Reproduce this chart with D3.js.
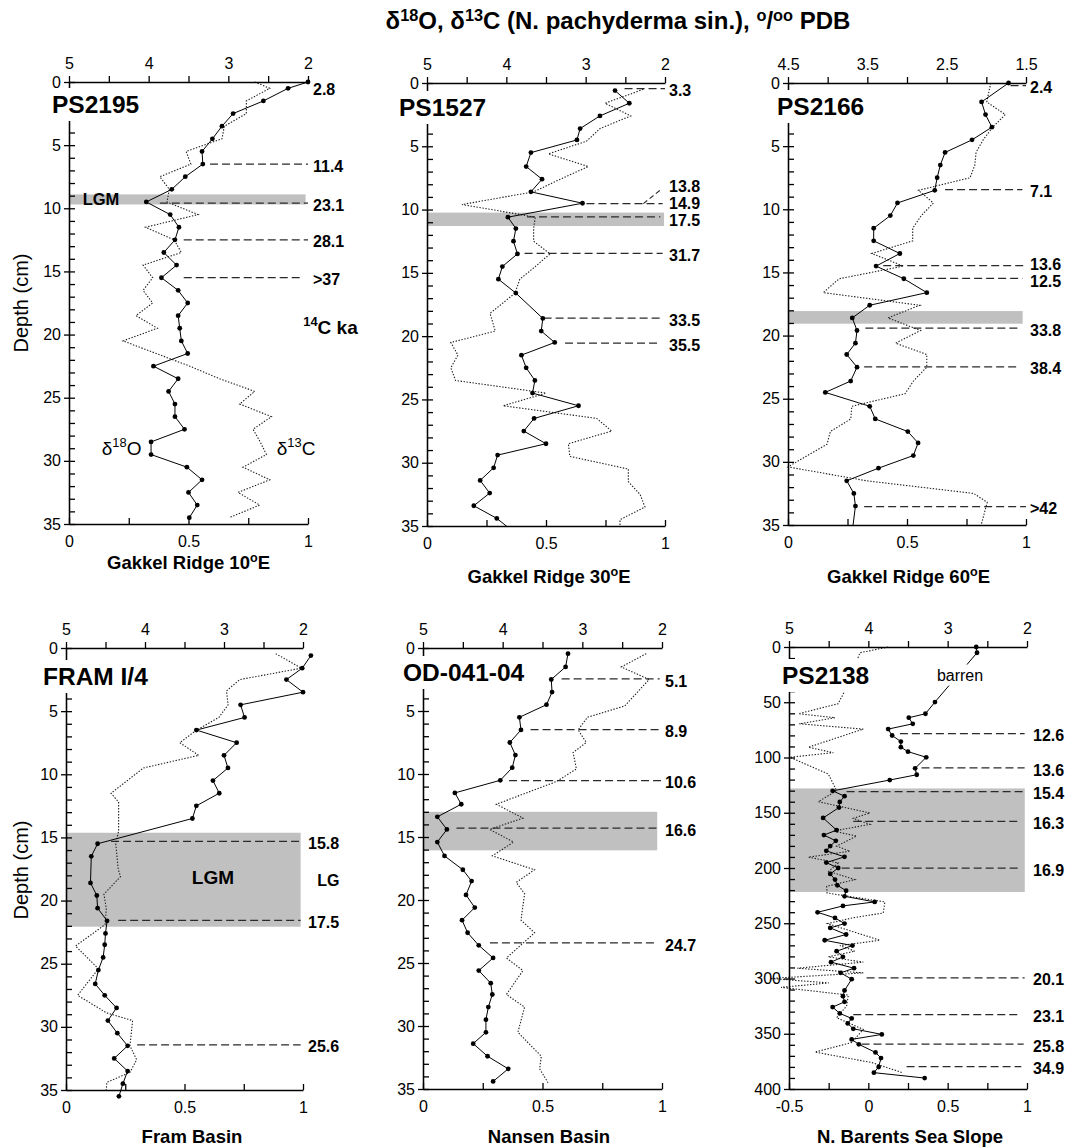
<!DOCTYPE html>
<html>
<head>
<meta charset="utf-8">
<script src="https://cdn.jsdelivr.net/npm/d3@7/dist/d3.min.js"></script>
<style>
html,body{margin:0;padding:0;background:#fff;}
svg{display:block;}
</style>
</head>
<body>
<svg id="chart" width="1067" height="1148" xmlns="http://www.w3.org/2000/svg"></svg>
<script>
// ------------------------------------------------------------------ DATA
const stationNames = ["PS2195", "PS1527", "PS2166", "FRAM I/4", "OD-041-04", "PS2138"];
const locationNames = ["Gakkel Ridge 10°E", "Gakkel Ridge 30°E", "Gakkel Ridge 60°E", "Fram Basin", "Nansen Basin", "N. Barents Sea Slope"];

// tick labels
const depthLabels35 = [0, 5, 10, 15, 20, 25, 30, 35];
const depthLabels400 = [0, 50, 100, 150, 200, 250, 300, 350, 400];
const topLabels52 = [5, 4, 3, 2];
const topLabels4515 = [4.5, 3.5, 2.5, 1.5];
const bottomLabels01 = [0, 0.5, 1];
const bottomLabelsB = [-0.5, 0, 0.5, 1];

// PS2195
const ps2195DepthO = [0,0.5,1.5,2.5,3.5,4.5,5.5,6.5,7.5,8.5,9.5,10.5,11.5,12.5,13.5,14.5,15.5,16.5,17.5,18.5,19.5,20.5,21.5,22.5,23.5,24.5,25.5,26.5,27.5,28.5,29.5,30.5,31.5,32.5,33.5,34.5];
const ps2195O18 = [2.0,2.25,2.56,2.94,3.08,3.20,3.33,3.32,3.54,3.71,4.03,3.73,3.62,3.67,3.81,3.65,3.84,3.63,3.51,3.63,3.61,3.59,3.51,3.94,3.63,3.75,3.67,3.67,3.55,3.97,3.97,3.52,3.33,3.50,3.39,3.49];
const ps2195DepthC = [0,0.5,1.5,2.5,3.5,4.5,5.5,6.5,7.5,8.5,9.5,10.5,11.5,12.5,13.5,14.5,15.5,16.5,17.5,18.5,19.5,20.5,21.5,22.5,23.5,24.5,25.5,26.5,27.5,28.5,29.5,30.5,31.5,32.5,33.5,34.5];
const ps2195C13 = [0.777,0.84,0.742,0.742,0.65,0.64,0.49,0.51,0.38,0.42,0.41,0.54,0.32,0.44,0.47,0.31,0.35,0.31,0.35,0.28,0.37,0.226,0.365,0.505,0.63,0.777,0.714,0.847,0.77,0.80,0.826,0.728,0.84,0.707,0.798,0.67];
const ps2195AgeText = ["2.8","11.4","23.1","28.1",">37"];
const ps2195AgeDepth = [0.45, 6.5, 9.6, 12.5, 15.5];
const ps2195AgeFrom = [null, 0.59, 0.38, 0.48, 0.48];
const ps2195AgeTo = [null, 1.0, 1.0, 1.0, 0.97];
const ps2195Band = [8.9, 9.7];

// PS1527
const ps1527DepthO = [0.6,1.6,2.6,3.6,4.5,5.5,6.6,7.6,8.6,9.5,10.6,11.5,12.5,13.5,14.5,15.5,16.6,18.6,19.6,20.5,21.5,22.5,23.5,24.5,25.5,26.5,27.5,28.5,29.4,30.4,31.4,32.4,33.4,34.4,35.4];
const ps1527O18 = [2.63,2.45,2.82,3.07,3.11,3.69,3.75,3.55,3.69,3.04,3.98,3.88,3.91,3.86,4.05,4.10,3.88,3.54,3.56,3.39,3.81,3.75,3.64,3.67,3.09,3.65,3.78,3.50,4.11,4.16,4.33,4.21,4.41,4.12,3.92];
const ps1527DepthC = [0.5,1.6,2.6,3.6,4.6,5.6,6.6,7.6,8.6,9.6,10.6,11.5,12.5,13.5,14.5,15.5,16.6,18.2,19.6,20.5,21.5,22.5,23.5,24.5,25.5,26.5,27.5,28.5,29.5,30.5,31.5,32.5,33.5,34.5,35];
const ps1527C13 = [0.909,0.748,0.856,0.727,0.67,0.51,0.678,0.56,0.448,0.147,0.455,0.448,0.448,0.517,0.455,0.39,0.37,0.265,0.287,0.10,0.13,0.10,0.12,0.50,0.32,0.713,0.776,0.594,0.60,0.846,0.846,0.895,0.916,0.811,0.811];
const ps1527AgeText = ["3.3","13.8","14.9","17.5","31.7","33.5","35.5"];
const ps1527AgeDepth = [0.45, 8.2, 9.53, 10.58, 13.47, 18.58, 20.55];
const ps1527AgeFrom = [0.83, null, 0.67, 0.42, 0.41, 0.49, 0.58];
const ps1527AgeTo = [1.0, null, 0.99, 0.98, 0.99, 0.98, 0.98];
const ps1527Leader = [[0.909, 9.53], [0.986, 8.37]];
const ps1527Band = [10.24, 11.3];

// PS2166
const ps2166DepthO = [0,1.5,2.5,3.5,4.5,5.5,6.5,7.5,8.5,9.5,10.5,11.5,12.5,13.5,14.5,15.5,16.6,17.6,18.6,19.6,20.6,21.5,22.5,23.6,24.5,25.6,26.6,27.6,28.5,29.5,30.5,31.5,32.5,33.5,35.5];
const ps2166O18 = [1.72,2.06,2.01,1.93,2.18,2.52,2.58,2.62,2.65,3.12,3.21,3.42,3.42,3.09,3.39,3.04,2.75,3.47,3.69,3.63,3.65,3.76,3.63,3.71,4.03,3.47,3.40,2.99,2.86,2.92,3.36,3.76,3.67,3.65,3.69];
const ps2166DepthC = [0,1.5,2.5,3.5,4.5,5.5,6.5,7.5,8.5,9.5,10.5,11.5,12.5,13.5,14.5,15.5,16.6,17.6,18.6,19.6,20.6,21.5,22.5,23.6,24.6,25.6,26.6,27.6,28.6,30.4,31.5,32.5,33.2,34.9];
const ps2166C13 = [0.852,0.835,0.913,0.86,0.82,0.79,0.785,0.765,0.548,0.611,0.56,0.524,0.524,0.352,0.485,0.215,0.148,0.554,0.42,0.557,0.452,0.583,0.583,0.527,0.492,0.268,0.264,0.178,0.164,0.0,0.33,0.78,0.837,0.813];
const ps2166AgeText = ["2.4","7.1","13.6","12.5","33.8","38.4",">42"];
const ps2166AgeDepth = [0.2, 8.45, 14.47, 15.47, 19.42, 22.47, 33.54];
const ps2166AgeFrom = [0.935, 0.66, 0.40, 0.53, 0.325, 0.32, 0.32];
const ps2166AgeTo = [1.0, 0.985, 0.99, 0.985, 0.975, 0.975, 1.0];
const ps2166Band = [18.06, 19.06];

// FRAM I/4
const framDepthO = [0.6,1.6,2.5,3.5,4.5,5.5,6.5,7.5,8.5,9.5,10.5,11.5,12.5,13.5,15.5,16.5,18.6,19.6,20.6,21.6,22.6,23.5,24.5,25.5,26.6,27.5,28.5,29.5,30.5,31.5,32.5,33.5,34.5,35.5];
const framO18 = [1.90,2.01,2.21,2.00,2.79,2.74,3.35,2.84,3.00,2.95,3.14,3.06,3.35,3.40,4.60,4.68,4.69,4.61,4.60,4.48,4.50,4.51,4.53,4.59,4.63,4.51,4.36,4.47,4.35,4.22,4.39,4.22,4.28,4.33];
const framDepthC = [0.45,1.6,2.5,3.4,4.5,5.5,6.5,7.5,8.5,9.5,11.5,12.2,13.5,14.5,15.5,16.5,17.5,18.1,19.5,20.6,21.9,23.6,25.4,27.5,28.9,29.5,31.5,32.6,33.6,34.4,35];
const framC13 = [0.885,0.993,0.733,0.677,0.684,0.645,0.551,0.48,0.56,0.327,0.19,0.222,0.222,0.222,0.21,0.215,0.22,0.23,0.16,0.17,0.165,0.04,0.137,0.049,0.172,0.281,0.27,0.298,0.27,0.172,0.17];
const framAgeText = ["15.8","17.5","25.6"];
const framAgeDepth = [15.32, 21.57, 31.42];
const framAgeFrom = [0.19, 0.22, 0.30];
const framAgeTo = [0.99, 0.99, 0.99];
const framBand = [14.63, 22.07];

// OD-041-04
const odDepthO = [0.45,1.5,2.5,3.5,4.5,5.5,6.5,7.5,8.5,9.5,10.5,11.5,12.4,13.4,14.4,15.4,16.5,17.6,18.5,19.6,20.6,21.6,22.6,23.6,24.6,25.6,26.6,27.5,28.5,29.5,30.5,31.4,32.4,33.4,34.4];
const odO18 = [3.18,3.21,3.39,3.38,3.45,3.79,3.77,3.91,3.84,3.88,4.03,4.60,4.52,4.82,4.70,4.82,4.73,4.50,4.39,4.46,4.35,4.51,4.44,4.30,4.12,4.30,4.15,4.13,4.18,4.21,4.21,4.37,4.19,3.93,4.12];
const odDepthC = [0.45,1.5,2.5,4.6,5.5,6.5,7.5,8.3,9.6,10.6,12.4,13.5,14.4,15.4,16.5,17.6,18.6,19.5,21.6,22.6,24.6,25.6,27.5,28.5,30.5,32.4,33.4,34.5];
const odC13 = [0.934,0.83,0.946,0.844,0.688,0.649,0.683,0.628,0.642,0.558,0.307,0.418,0.279,0.379,0.29,0.467,0.39,0.425,0.41,0.467,0.349,0.418,0.349,0.425,0.397,0.495,0.488,0.523];
const odAgeText = ["5.1","8.9","10.6","16.6","24.7"];
const odAgeDepth = [2.46, 6.48, 10.53, 14.3, 23.41];
const odAgeFrom = [0.58, 0.45, 0.36, 0.14, 0.28];
const odAgeTo = [0.99, 0.99, 1.0, 0.98, 0.98];
const odBand = [13.0, 16.06];

// PS2138
const ps2138DepthO = [0,5.2,49.8,60.4,64,69.5,74.3,80.1,85.6,90.7,94.7,99.8,109.8,115.6,120.4,130.2,135,140.2,145.3,154.7,165.7,170.2,175.4,180.2,184.5,189.9,195.1,200,205.4,210.5,215.7,220.5,225.6,230.7,234.3,240.1,245.2,250.3,254.2,260.2,265.4,270.2,275.3,280.4,285.2,290.7,294.9,300.6,310.8,316,321.1,325.9,331.6,336.1,340.7,345.5,350.6,355.1,359.6,366.9,372,380.1,385.2,390.1];
const ps2138O18 = [2.64,2.63,3.16,3.28,3.49,3.44,3.75,3.70,3.59,3.59,3.50,3.27,3.41,3.39,3.73,4.45,4.30,4.36,4.37,4.57,4.40,4.56,4.41,4.48,4.53,4.30,4.53,4.38,4.48,4.42,4.39,4.28,4.30,3.92,4.32,4.64,4.42,4.30,4.48,4.28,4.55,4.20,4.40,4.32,4.47,4.18,4.35,4.21,4.30,4.32,4.30,4.45,4.36,4.21,4.26,4.19,3.83,4.21,4.12,3.91,3.84,3.87,3.93,3.29];
const ps2138DepthC = [0,5.2,36.7,51.3,60.4,64,69.5,74.3,90.7,95.6,99.8,115,130,140,150.2,155,160.5,166.6,171.1,180.2,184.8,190.2,195.4,203,210.5,216.6,222.6,230.7,240.7,245,250.3,265.4,270.2,275.3,280.4,285.2,290.7,294.9,300,304,308,315,325,335.5,346,358,366.6,376,385];
const ps2138C13 = [0.125,-0.053,-0.137,-0.19,-0.44,-0.21,-0.435,-0.032,-0.378,-0.221,-0.494,-0.252,-0.2,-0.315,0.01,-0.095,0.01,-0.221,-0.074,-0.2,-0.116,-0.378,-0.19,-0.25,-0.085,-0.263,-0.26,0.104,0.094,-0.095,-0.257,0.073,-0.179,-0.085,-0.252,-0.032,-0.448,-0.032,-0.62,-0.25,-0.55,-0.126,-0.137,-0.2,-0.032,-0.106,-0.336,0.02,0.21];
const ps2138AgeText = ["12.6","13.6","15.4","16.3","16.9","20.1","23.1","25.8","34.9"];
const ps2138AgeDepth = [78.3, 109.5, 130.8, 157.8, 200, 299.4, 332.8, 359.3, 379.8];
const ps2138AgeFrom = [0.199, 0.335, -0.137, -0.095, -0.168, -0.011, -0.095, -0.043, 0.241];
const ps2138AgeTo = [0.985, 0.985, 0.979, 0.964, 0.964, 0.985, 0.964, 0.979, 0.964];
const ps2138Band = [128, 221.7];

// ------------------------------------------------------------------ LAYOUT
const FONT = '"Liberation Sans", Arial, Helvetica, sans-serif';
const svg = d3.select("#chart").attr("font-family", FONT);

const panels = [
  {frame:[69,308,82,524], top:[5,2], topLab:topLabels52, bottom:[0,1], botLab:bottomLabels01,
   depth:[0,35], minor:1, depthLab:depthLabels35,
   oD:ps2195DepthO, o:ps2195O18, cD:ps2195DepthC, c:ps2195C13,
   ages:[ps2195AgeText, ps2195AgeDepth, ps2195AgeFrom, ps2195AgeTo], band:ps2195Band, bandTo:0.99,
   nameX:52, nameY:113, ageDx:5, ageShift:{}, locX:188.5, locY:569, clip:false, depthTitle:303},
  {frame:[427,665,83,526], top:[5,2], topLab:topLabels52, bottom:[0,1], botLab:bottomLabels01,
   depth:[0,35], minor:1, depthLab:depthLabels35,
   oD:ps1527DepthO, o:ps1527O18, cD:ps1527DepthC, c:ps1527C13,
   ages:[ps1527AgeText, ps1527AgeDepth, ps1527AgeFrom, ps1527AgeTo], band:ps1527Band, bandTo:0.996,
   leader:ps1527Leader,
   nameX:399, nameY:116, ageDx:4, ageShift:{1:-2, 2:-2, 3:1}, locX:549, locY:583, clip:true},
  {frame:[788,1026,83,525], top:[4.5,1.5], topLab:topLabels4515, bottom:[0,1], botLab:bottomLabels01,
   depth:[0,35], minor:1, depthLab:depthLabels35,
   oD:ps2166DepthO, o:ps2166O18, cD:ps2166DepthC, c:ps2166C13,
   ages:[ps2166AgeText, ps2166AgeDepth, ps2166AgeFrom, ps2166AgeTo], band:ps2166Band, bandTo:0.986,
   nameX:777, nameY:115, ageDx:4, ageShift:{2:-3, 3:1}, locX:908.5, locY:583, clip:true},
  {frame:[66,303,648,1090], top:[5,2], topLab:topLabels52, bottom:[0,1], botLab:bottomLabels01,
   depth:[0,35], minor:1, depthLab:depthLabels35,
   oD:framDepthO, o:framO18, cD:framDepthC, c:framC13,
   ages:[framAgeText, framAgeDepth, framAgeFrom, framAgeTo], band:framBand, bandTo:0.99,
   nameX:43, nameY:685, ageDx:5, ageShift:{}, locX:192, locY:1143, clip:false, depthTitle:870},
  {frame:[423,662,648,1089], top:[5,2], topLab:topLabels52, bottom:[0,1], botLab:bottomLabels01,
   depth:[0,35], minor:1, depthLab:depthLabels35,
   oD:odDepthO, o:odO18, cD:odDepthC, c:odC13,
   ages:[odAgeText, odAgeDepth, odAgeFrom, odAgeTo], band:odBand, bandTo:0.98,
   nameX:403, nameY:681, ageDx:3, ageShift:{}, locX:549, locY:1143, clip:false},
  {frame:[789,1027,647,1089], top:[5,2], topLab:topLabels52, bottom:[-0.5,1], botLab:bottomLabelsB,
   depth:[0,400], minor:10, depthLab:depthLabels400,
   oD:ps2138DepthO, o:ps2138O18, cD:ps2138DepthC, c:ps2138C13,
   ages:[ps2138AgeText, ps2138AgeDepth, ps2138AgeFrom, ps2138AgeTo], band:ps2138Band, bandTo:0.986,
   nameX:782, nameY:684, ageDx:6, ageShift:{}, locX:910, locY:1143, clip:false}
];

// ------------------------------------------------------------------ HELPERS
function rich(t, parts, fs, shift) {
  const k = shift || 0.4;
  let cur = 0;
  parts.forEach(([s, sup]) => {
    const target = sup ? -Math.round(fs * k) : 0;
    t.append("tspan").attr("dy", target - cur).attr("font-size", sup ? fs * 0.68 : fs).text(s);
    cur = target;
  });
}
function degreeParts(s) {
  const i = s.indexOf("°");
  if (i < 0) return [[s, 0]];
  return [[s.slice(0, i), 0], ["o", 1], [s.slice(i + 1), 0]];
}
function styleAxis(g) {
  g.attr("font-family", FONT).attr("font-size", 16);
  g.selectAll("path, line").attr("stroke", "#000").attr("stroke-width", 1.3);
  g.selectAll("text").attr("fill", "#000");
}
function whiteBox(g, textSel, padX, padY) {
  const b = textSel.node().getBBox();
  g.insert("rect", function () { return textSel.node(); })
    .attr("x", b.x - padX).attr("y", b.y - padY)
    .attr("width", b.width + 2 * padX).attr("height", b.height + 2 * padY)
    .attr("fill", "#fff");
}

const defs = svg.append("defs");

// ------------------------------------------------------------------ PANELS
panels.forEach((p, idx) => {
  const [x0, x1, y0, y1] = p.frame;
  const xb = d3.scaleLinear().domain(p.bottom).range([x0, x1]);
  const xt = d3.scaleLinear().domain(p.top).range([x0, x1]);
  const y = d3.scaleLinear().domain(p.depth).range([y0, y1]);
  const g = svg.append("g");
  p.scales = {xb, xt, y};

  // shaded band
  g.append("rect")
    .attr("x", x0).attr("y", y(p.band[0]))
    .attr("width", xb(p.bandTo) - x0)
    .attr("height", y(p.band[1]) - y(p.band[0]))
    .attr("fill", "#c0c0c0");

  // age dashed lines + labels
  const [at, ad, af, ato] = p.ages;
  at.forEach((txt, i) => {
    if (af[i] !== null) {
      g.append("line")
        .attr("x1", xb(af[i])).attr("x2", xb(ato[i]))
        .attr("y1", y(ad[i])).attr("y2", y(ad[i]))
        .attr("stroke", "#2a2a2a").attr("stroke-width", 1.25).attr("stroke-dasharray", "8,4");
    }
    g.append("text").attr("x", x1 + p.ageDx).attr("y", y(ad[i]) + 2 + (p.ageShift[i] || 0)).attr("dy", "0.35em")
      .attr("font-size", 16).attr("font-weight", "bold").text(txt);
  });
  if (p.leader) {
    g.append("line")
      .attr("x1", xb(p.leader[0][0])).attr("y1", y(p.leader[0][1]))
      .attr("x2", xb(p.leader[1][0])).attr("y2", y(p.leader[1][1]))
      .attr("stroke", "#2a2a2a").attr("stroke-width", 1.1).attr("stroke-dasharray", "5,3");
  }

  // data group (optionally clipped)
  const dg = g.append("g");
  if (p.clip) {
    const id = "clip" + idx;
    defs.append("clipPath").attr("id", id).append("rect")
      .attr("x", x0 - 30).attr("y", y0 - 10).attr("width", x1 - x0 + 60).attr("height", y1 - y0 + 10);
    dg.attr("clip-path", `url(#${id})`);
  }

  const cData = d3.zip(p.cD, p.c);
  dg.append("path").datum(cData)
    .attr("d", d3.line().x(d => xb(d[1])).y(d => y(d[0])))
    .attr("fill", "none").attr("stroke", "#1e1e1e").attr("stroke-width", 1.1)
    .attr("stroke-dasharray", "1.4,1.6");

  const oData = d3.zip(p.oD, p.o);
  dg.append("path").datum(oData)
    .attr("d", d3.line().x(d => xt(d[1])).y(d => y(d[0])))
    .attr("fill", "none").attr("stroke", "#000").attr("stroke-width", 1);
  dg.selectAll("circle").data(oData).join("circle")
    .attr("cx", d => xt(d[1])).attr("cy", d => y(d[0])).attr("r", 2.4).attr("fill", "#000");

  // axes
  const topStep = 0.5;
  const tTicks = d3.range(Math.min(...p.top), Math.max(...p.top) + 1e-9, topStep);
  const topAxis = d3.axisTop(xt).tickValues(tTicks).tickSize(6).tickSizeOuter(0).tickPadding(7)
    .tickFormat(d => p.topLab.some(v => Math.abs(v - d) < 1e-9) ? String(d) : "");
  styleAxis(g.append("g").attr("transform", `translate(0,${y0})`).call(topAxis));

  const bTicks = d3.range(p.bottom[0], p.bottom[1] + 1e-9, 0.25);
  const botAxis = d3.axisBottom(xb).tickValues(bTicks).tickSize(-6).tickSizeOuter(0).tickPadding(12)
    .tickFormat(d => p.botLab.some(v => Math.abs(v - d) < 1e-9) ? String(d) : "");
  styleAxis(g.append("g").attr("transform", `translate(0,${y1})`).call(botAxis));

  const minorTicks = d3.range(p.depth[0], p.depth[1] + 1e-9, p.minor);
  const leftMinor = d3.axisLeft(y).tickValues(minorTicks).tickSize(-6).tickSizeOuter(0).tickFormat("");
  styleAxis(g.append("g").attr("transform", `translate(${x0},0)`).call(leftMinor));
  const leftMajor = d3.axisLeft(y).tickValues(p.depthLab).tickSize(5).tickSizeOuter(0).tickPadding(3);
  styleAxis(g.append("g").attr("transform", `translate(${x0},0)`).call(leftMajor));

  // station name with white background
  const nm = g.append("text").attr("x", p.nameX).attr("y", p.nameY)
    .attr("font-size", 24.5).attr("font-weight", "bold").text(stationNames[idx]);
  whiteBox(g, nm, 2, 3);

  // location label
  const lt = g.append("text").attr("x", p.locX).attr("y", p.locY).attr("text-anchor", "middle")
    .attr("font-size", 18.5).attr("font-weight", "bold");
  rich(lt, degreeParts(locationNames[idx]), 18.5);

  // depth axis title
  if (p.depthTitle) {
    g.append("text").attr("transform", `translate(28,${p.depthTitle}) rotate(-90)`)
      .attr("text-anchor", "middle").attr("font-size", 20).text("Depth (cm)");
  }
});

// ------------------------------------------------------------------ EXTRA LABELS
{
  const {xb, y} = panels[0].scales;
  svg.append("text").attr("x", xb(0.134)).attr("y", y(9.26)).attr("dy", "0.35em")
    .attr("text-anchor", "middle").attr("font-size", 16.5).attr("font-weight", "bold").text("LGM");
  const k = svg.append("text").attr("x", xb(0.98)).attr("y", y(19.4) + 7)
    .attr("font-size", 19).attr("font-weight", "bold");
  rich(k, [["14", 1], ["C ka", 0]], 19);
  const o = svg.append("text").attr("x", xb(0.22)).attr("y", y(29.0) + 7)
    .attr("text-anchor", "middle").attr("font-size", 19);
  rich(o, [["δ", 0], ["18", 1], ["O", 0]], 19);
  const c = svg.append("text").attr("x", xb(0.95)).attr("y", y(29.0) + 7)
    .attr("text-anchor", "middle").attr("font-size", 19);
  rich(c, [["δ", 0], ["13", 1], ["C", 0]], 19);
}
{
  const {xb, y} = panels[3].scales;
  svg.append("text").attr("x", xb(0.62)).attr("y", y(18.2)).attr("dy", "0.35em")
    .attr("text-anchor", "middle").attr("font-size", 19).attr("font-weight", "bold").text("LGM");
  svg.append("text").attr("x", xb(1.06)).attr("y", y(18.4)).attr("dy", "0.35em")
    .attr("font-size", 16).attr("font-weight", "bold").text("LG");
}
{
  const {xb, y} = panels[5].scales;
  const g = svg.append("g");
  const bt = g.append("text").attr("x", xb(0.578)).attr("y", y(25.3)).attr("dy", "0.35em")
    .attr("text-anchor", "middle").attr("font-size", 16).text("barren");
  whiteBox(g, bt, 3, 2);
}

// ------------------------------------------------------------------ TITLE
{
  const parts = [["δ", 0], ["18", 1], ["O, δ", 0], ["13", 1], ["C (N. pachyderma sin.),  ", 0],
                 ["o", 1], ["/", 0], ["oo", 1], [" PDB", 0]];
  const fs = 24;
  const t = svg.append("text").attr("x", 618).attr("y", 29).attr("text-anchor", "middle")
    .attr("font-weight", "bold").attr("font-size", fs);
  rich(t, parts, fs, 0.33);
}
</script>
</body>
</html>
